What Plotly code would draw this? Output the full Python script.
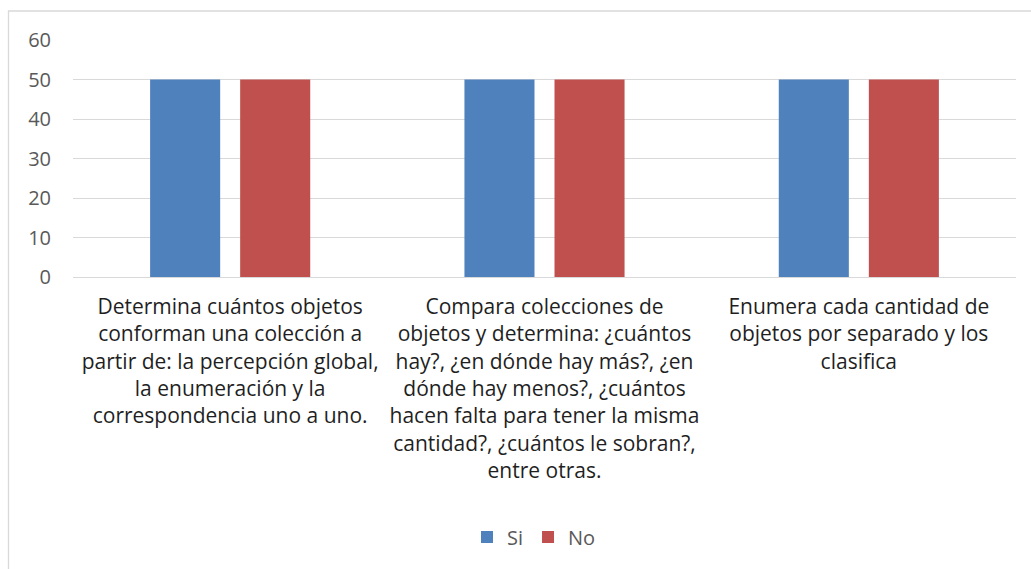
import plotly.graph_objects as go

categories = [
    "Determina cuántos objetos<br>conforman una colección a<br>partir de: la percepción global,<br>la enumeración y la<br>correspondencia uno a uno.",
    "Compara colecciones de<br>objetos y determina: ¿cuántos<br>hay?, ¿en dónde hay más?, ¿en<br>dónde hay menos?, ¿cuántos<br>hacen falta para tener la misma<br>cantidad?, ¿cuántos le sobran?,<br>entre otras.",
    "Enumera cada cantidad de<br>objetos por separado y los<br>clasifica",
]
si_values = [50, 50, 50]
no_values = [50, 50, 50]
y_ticks = [0, 10, 20, 30, 40, 50, 60]

FONT = "Open Sans, Calibri, sans-serif"

fig = go.Figure()
fig.add_trace(go.Bar(name="Si", x=categories, y=si_values, marker_color="#4F81BD", marker_line_width=0))
fig.add_trace(go.Bar(name="No", x=categories, y=no_values, marker_color="#C0504D", marker_line_width=0))

W, H = 1031, 569
L, R, T, B = 73, 15, 40, 292
pw, ph = W - L - R, H - T - B

def px2x(p):
    return (p - L) / pw

def py2y(p):
    return (H - B - p) / ph

fig.update_layout(
    width=W, height=H,
    margin=dict(l=L, r=R, t=T, b=B, autoexpand=False),
    paper_bgcolor="white", plot_bgcolor="white",
    barmode="group", bargap=0.427, bargroupgap=0.222,
    font=dict(family=FONT, size=20, color="#595959"),
    xaxis=dict(showgrid=False, showline=False, ticks="", tickangle=0, ticklabelstandoff=15,
               tickfont=dict(family=FONT, size=21, color="#1F1F1F"), automargin=False),
    yaxis=dict(range=[0, 60], tickvals=y_ticks, showgrid=True, gridcolor="#D9D9D9", gridwidth=1.3,
               zeroline=True, zerolinecolor="#D9D9D9", zerolinewidth=1.3, showline=False, ticks="",
               ticklabelstandoff=21, tickfont=dict(family=FONT, size=20, color="#595959"), automargin=False),
    legend=dict(orientation="h", x=px2x(534), xanchor="center", y=py2y(537), yanchor="middle",
                font=dict(family=FONT, size=20, color="#595959"), itemwidth=30, traceorder="normal"),
    shapes=[dict(type="rect", xref="paper", yref="paper",
                 x0=px2x(8.5), x1=px2x(1040), y0=py2y(11), y1=py2y(580),
                 line=dict(color="#D9D9D9", width=1.3), fillcolor="rgba(0,0,0,0)", layer="below")],
)

fig.write_html("out.html", config={"displayModeBar": False},
               post_script="document.body.style.margin='0';document.body.style.overflow='hidden';")
